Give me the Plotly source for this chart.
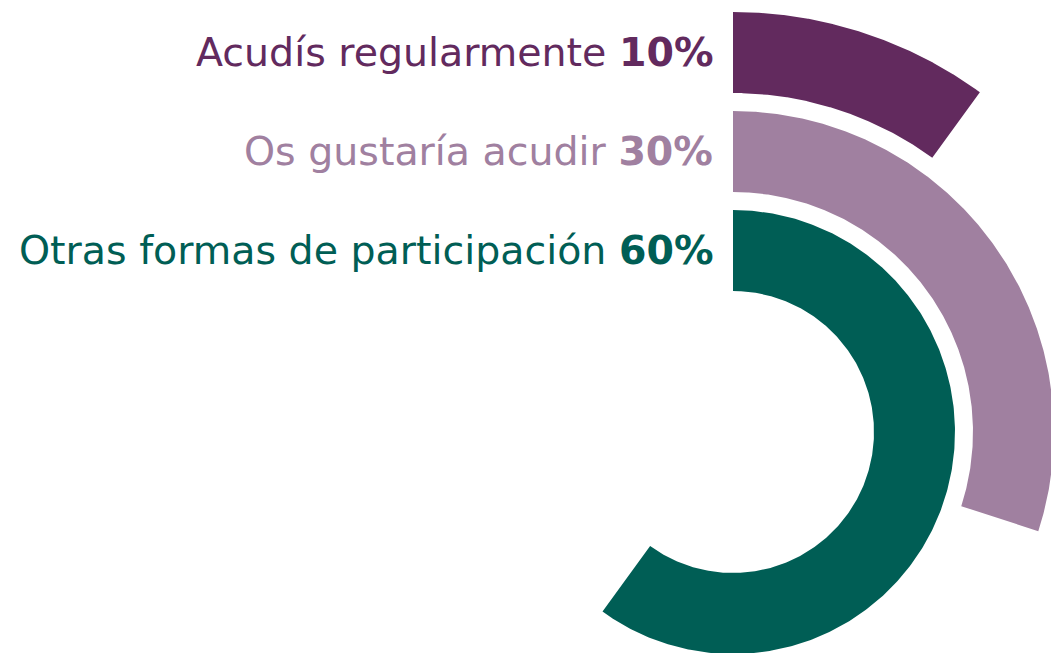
import numpy as np
import plotly.graph_objects as go

# Data
labels = ["Acudís regularmente", "Os gustaría acudir", "Otras formas de participación"]
values = [10, 30, 60]
colors = ["#622A5E", "#A080A0", "#005E55"]

# Layout constants (pixels)
W, H = 1051, 653
CX, CY = 733, 432          # ring center in figure pixels
ring_outer = [420, 321, 222]
ring_width = 81
FONT = "DejaVu Sans"
FONT_SIZE = 39.5

fig = go.Figure()

for lab, val, col, r1 in zip(labels, values, colors, ring_outer):
    r0 = r1 - ring_width
    theta = np.linspace(0, val / 100 * 2 * np.pi, 400)
    xo, yo = r1 * np.sin(theta), r1 * np.cos(theta)
    xi, yi = r0 * np.sin(theta[::-1]), r0 * np.cos(theta[::-1])
    fig.add_trace(go.Scatter(
        x=np.concatenate([xo, xi, xo[:1]]),
        y=np.concatenate([yo, yi, yo[:1]]),
        fill="toself", fillcolor=col, mode="lines",
        line=dict(width=0, color=col), hoverinfo="text",
        text=f"{lab}: {val}%", showlegend=False,
    ))
    fig.add_annotation(
        x=-18, y=r1 - ring_width / 2 + 1, xref="x", yref="y",
        text=f"{lab} <b>{val}%</b>", showarrow=False,
        xanchor="right", yanchor="middle",
        font=dict(family=FONT, size=FONT_SIZE, color=col),
    )

fig.update_xaxes(range=[-CX, W - CX], visible=False, fixedrange=True)
fig.update_yaxes(range=[CY - H, CY], visible=False, fixedrange=True)
fig.update_layout(
    width=W, height=H, margin=dict(l=0, r=0, t=0, b=0),
    plot_bgcolor="white", paper_bgcolor="white",
)
fig.write_html(
    "out.html",
    config={"displayModeBar": False},
    post_script="document.body.style.margin='0';document.body.style.overflow='hidden';",
)
